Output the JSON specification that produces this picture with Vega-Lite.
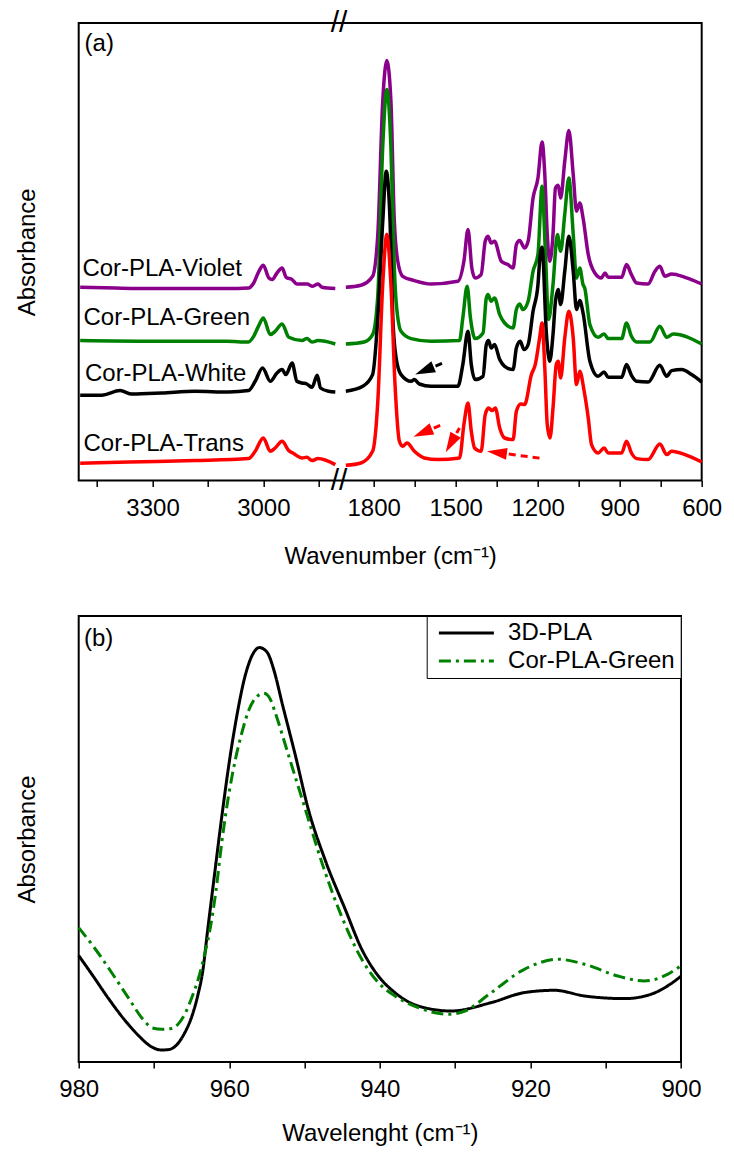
{
  "$schema": "https://vega.github.io/schema/vega-lite/v6.json",
  "background": "white",
  "padding": {"left": 14.7, "top": 7, "right": 5, "bottom": 0},
  "spacing": 44,
  "resolve": {"scale": {"color": "independent", "strokeDash": "independent", "x": "independent", "y": "independent"}, "legend": {"color": "independent", "strokeDash": "independent"}},
  "config": {
    "font": "Liberation Sans",
    "view": {"stroke": "black", "strokeWidth": 2},
    "axis": {"labelFont": "Liberation Sans", "titleFont": "Liberation Sans", "labelFontSize": 24, "titleFontSize": 24, "titleFontWeight": "normal", "labelColor": "black", "titleColor": "black", "tickColor": "black", "tickSize": 6, "tickWidth": 1.5, "domain": false, "grid": false, "labelPadding": 10, "titlePadding": 23.5, "labelFlush": false, "labelOverlap": false, "format": "d"},
    "legend": {"labelFont": "Liberation Sans"},
    "text": {"font": "Liberation Sans"}
  },
  "datasets": {
    "spec": [
      {"s":"Violet","wn":3496,"a":193.3},{"s":"Violet","wn":3400,"a":192.5},{"s":"Violet","wn":3300,"a":192},{"s":"Violet","wn":3200,"a":192},{"s":"Violet","wn":3100,"a":192},{"s":"Violet","wn":3040,"a":192.6},{"s":"Violet","wn":3026,"a":197.6},{"s":"Violet","wn":3012,"a":209.3},{"s":"Violet","wn":3000,"a":215.3},{"s":"Violet","wn":2985,"a":202.6},{"s":"Violet","wn":2976,"a":201},{"s":"Violet","wn":2963,"a":207.6},{"s":"Violet","wn":2949,"a":212.6},{"s":"Violet","wn":2938,"a":203.3},{"s":"Violet","wn":2922,"a":201},{"s":"Violet","wn":2909,"a":196.6},{"s":"Violet","wn":2881,"a":196.6},{"s":"Violet","wn":2868,"a":194.3},{"s":"Violet","wn":2852,"a":196.6},{"s":"Violet","wn":2841,"a":193.3},{"s":"Violet","wn":2805,"a":192},
      {"s":"Violet","wn":1902,"a":193.3},{"s":"Violet","wn":1847,"a":195.3},{"s":"Violet","wn":1804,"a":204.3},{"s":"Violet","wn":1785,"a":246.3},{"s":"Violet","wn":1767,"a":379.3},{"s":"Violet","wn":1752,"a":420},{"s":"Violet","wn":1737,"a":379.3},{"s":"Violet","wn":1725,"a":262.6},{"s":"Violet","wn":1712,"a":219.3},{"s":"Violet","wn":1694,"a":204.3},{"s":"Violet","wn":1651,"a":200},{"s":"Violet","wn":1590,"a":196.6},{"s":"Violet","wn":1492,"a":199.3},{"s":"Violet","wn":1470,"a":219.3},{"s":"Violet","wn":1455,"a":251},{"s":"Violet","wn":1441,"a":212.6},{"s":"Violet","wn":1429,"a":202.6},{"s":"Violet","wn":1407,"a":206},{"s":"Violet","wn":1392,"a":239.3},{"s":"Violet","wn":1382,"a":244.3},{"s":"Violet","wn":1370,"a":237.6},{"s":"Violet","wn":1358,"a":239.3},{"s":"Violet","wn":1333,"a":219.3},{"s":"Violet","wn":1309,"a":216},{"s":"Violet","wn":1290,"a":212.6},{"s":"Violet","wn":1278,"a":236},{"s":"Violet","wn":1266,"a":240},{"s":"Violet","wn":1248,"a":232.6},{"s":"Violet","wn":1235,"a":239.3},{"s":"Violet","wn":1217,"a":282.6},{"s":"Violet","wn":1199,"a":302.6},{"s":"Violet","wn":1184,"a":338.6},{"s":"Violet","wn":1174,"a":306},{"s":"Violet","wn":1165,"a":246.3},{"s":"Violet","wn":1156,"a":219.3},{"s":"Violet","wn":1144,"a":246.3},{"s":"Violet","wn":1135,"a":292.6},{"s":"Violet","wn":1125,"a":295.3},{"s":"Violet","wn":1116,"a":282.6},{"s":"Violet","wn":1101,"a":319.3},{"s":"Violet","wn":1086,"a":350},{"s":"Violet","wn":1070,"a":306},{"s":"Violet","wn":1058,"a":269.3},{"s":"Violet","wn":1046,"a":277.6},{"s":"Violet","wn":1034,"a":262.6},{"s":"Violet","wn":1015,"a":226},{"s":"Violet","wn":991,"a":207.6},{"s":"Violet","wn":967,"a":202.6},{"s":"Violet","wn":954,"a":207.6},{"s":"Violet","wn":942,"a":203.3},{"s":"Violet","wn":893,"a":203.3},{"s":"Violet","wn":875,"a":216},{"s":"Violet","wn":857,"a":206},{"s":"Violet","wn":838,"a":197.6},{"s":"Violet","wn":796,"a":196.6},{"s":"Violet","wn":771,"a":209.3},{"s":"Violet","wn":753,"a":214.3},{"s":"Violet","wn":735,"a":204.3},{"s":"Violet","wn":710,"a":206.6},{"s":"Violet","wn":661,"a":203.3},{"s":"Violet","wn":600,"a":196.6},

      {"s":"Green","wn":3496,"a":140},{"s":"Green","wn":3300,"a":139.3},{"s":"Green","wn":3100,"a":139.3},{"s":"Green","wn":3040,"a":138.6},{"s":"Green","wn":3026,"a":144.3},{"s":"Green","wn":3012,"a":155.3},{"s":"Green","wn":3000,"a":162.6},{"s":"Green","wn":2981,"a":146},{"s":"Green","wn":2968,"a":149.3},{"s":"Green","wn":2949,"a":156.6},{"s":"Green","wn":2931,"a":143.3},{"s":"Green","wn":2895,"a":140},{"s":"Green","wn":2882,"a":142},{"s":"Green","wn":2868,"a":138.6},{"s":"Green","wn":2852,"a":140},{"s":"Green","wn":2805,"a":136.6},
      {"s":"Green","wn":1902,"a":136.6},{"s":"Green","wn":1835,"a":138.6},{"s":"Green","wn":1804,"a":146},{"s":"Green","wn":1785,"a":185},{"s":"Green","wn":1767,"a":333.6},{"s":"Green","wn":1752,"a":391},{"s":"Green","wn":1737,"a":333},{"s":"Green","wn":1725,"a":215.5},{"s":"Green","wn":1718,"a":179.3},{"s":"Green","wn":1700,"a":149.3},{"s":"Green","wn":1663,"a":142},{"s":"Green","wn":1590,"a":139.3},{"s":"Green","wn":1486,"a":140},{"s":"Green","wn":1474,"a":162.6},{"s":"Green","wn":1458,"a":194.3},{"s":"Green","wn":1446,"a":162.6},{"s":"Green","wn":1429,"a":142},{"s":"Green","wn":1400,"a":147.6},{"s":"Green","wn":1388,"a":182.6},{"s":"Green","wn":1382,"a":186},{"s":"Green","wn":1370,"a":179.3},{"s":"Green","wn":1358,"a":182.6},{"s":"Green","wn":1339,"a":166},{"s":"Green","wn":1321,"a":157.6},{"s":"Green","wn":1290,"a":152.6},{"s":"Green","wn":1278,"a":171},{"s":"Green","wn":1266,"a":176.6},{"s":"Green","wn":1254,"a":171},{"s":"Green","wn":1235,"a":179.3},{"s":"Green","wn":1217,"a":209.3},{"s":"Green","wn":1199,"a":226.3},{"s":"Green","wn":1184,"a":294.3},{"s":"Green","wn":1172,"a":229.3},{"s":"Green","wn":1160,"a":161},{"s":"Green","wn":1144,"a":196},{"s":"Green","wn":1128,"a":246},{"s":"Green","wn":1116,"a":229.3},{"s":"Green","wn":1101,"a":266.3},{"s":"Green","wn":1086,"a":302.6},{"s":"Green","wn":1070,"a":246.3},{"s":"Green","wn":1058,"a":202.6},{"s":"Green","wn":1046,"a":212.6},{"s":"Green","wn":1034,"a":196},{"s":"Green","wn":1028,"a":192.6},{"s":"Green","wn":1009,"a":156},{"s":"Green","wn":979,"a":143.3},{"s":"Green","wn":957,"a":146.6},{"s":"Green","wn":942,"a":142},{"s":"Green","wn":893,"a":142},{"s":"Green","wn":875,"a":157.6},{"s":"Green","wn":857,"a":144.3},{"s":"Green","wn":838,"a":138.6},{"s":"Green","wn":789,"a":138.6},{"s":"Green","wn":753,"a":154.3},{"s":"Green","wn":728,"a":143.3},{"s":"Green","wn":704,"a":146.6},{"s":"Green","wn":600,"a":136.6},

      {"s":"White","wn":3496,"a":85.3},{"s":"White","wn":3438,"a":85.3},{"s":"White","wn":3388,"a":90},{"s":"White","wn":3356,"a":86.6},{"s":"White","wn":3275,"a":87.6},{"s":"White","wn":3185,"a":89.3},{"s":"White","wn":3094,"a":88.6},{"s":"White","wn":3040,"a":90},{"s":"White","wn":3022,"a":99.3},{"s":"White","wn":3002,"a":112.6},{"s":"White","wn":2981,"a":99.3},{"s":"White","wn":2963,"a":107.6},{"s":"White","wn":2949,"a":111},{"s":"White","wn":2939,"a":106},{"s":"White","wn":2922,"a":117.6},{"s":"White","wn":2909,"a":99.3},{"s":"White","wn":2895,"a":97.6},{"s":"White","wn":2882,"a":96.6},{"s":"White","wn":2868,"a":93.3},{"s":"White","wn":2854,"a":105.3},{"s":"White","wn":2845,"a":92.6},{"s":"White","wn":2823,"a":89.3},{"s":"White","wn":2805,"a":88.6},
      {"s":"White","wn":1902,"a":89.3},{"s":"White","wn":1840,"a":94.3},{"s":"White","wn":1804,"a":106},{"s":"White","wn":1785,"a":162.6},{"s":"White","wn":1767,"a":258.6},{"s":"White","wn":1754,"a":309.3},{"s":"White","wn":1740,"a":258},{"s":"White","wn":1730,"a":162.6},{"s":"White","wn":1718,"a":122.6},{"s":"White","wn":1700,"a":106},{"s":"White","wn":1663,"a":99.3},{"s":"White","wn":1651,"a":101},{"s":"White","wn":1633,"a":96.6},{"s":"White","wn":1590,"a":94.3},{"s":"White","wn":1492,"a":94.3},{"s":"White","wn":1474,"a":116},{"s":"White","wn":1455,"a":149.3},{"s":"White","wn":1443,"a":116},{"s":"White","wn":1429,"a":101},{"s":"White","wn":1400,"a":104.3},{"s":"White","wn":1388,"a":136},{"s":"White","wn":1380,"a":140},{"s":"White","wn":1370,"a":132.6},{"s":"White","wn":1358,"a":136},{"s":"White","wn":1339,"a":121},{"s":"White","wn":1321,"a":114.3},{"s":"White","wn":1290,"a":111},{"s":"White","wn":1278,"a":132.6},{"s":"White","wn":1264,"a":139.3},{"s":"White","wn":1250,"a":131},{"s":"White","wn":1235,"a":136},{"s":"White","wn":1217,"a":169.3},{"s":"White","wn":1199,"a":196},{"s":"White","wn":1193,"a":219.3},{"s":"White","wn":1184,"a":233.3},{"s":"White","wn":1168,"a":146},{"s":"White","wn":1156,"a":119.3},{"s":"White","wn":1144,"a":146},{"s":"White","wn":1135,"a":179.3},{"s":"White","wn":1125,"a":191},{"s":"White","wn":1116,"a":176},{"s":"White","wn":1101,"a":209.3},{"s":"White","wn":1086,"a":244.3},{"s":"White","wn":1070,"a":209.3},{"s":"White","wn":1058,"a":171},{"s":"White","wn":1046,"a":180},{"s":"White","wn":1034,"a":167.6},{"s":"White","wn":1009,"a":119.3},{"s":"White","wn":979,"a":104.3},{"s":"White","wn":957,"a":108.6},{"s":"White","wn":942,"a":103.3},{"s":"White","wn":893,"a":103.3},{"s":"White","wn":875,"a":116},{"s":"White","wn":857,"a":105.3},{"s":"White","wn":838,"a":99.3},{"s":"White","wn":796,"a":98.6},{"s":"White","wn":753,"a":115.3},{"s":"White","wn":728,"a":104.3},{"s":"White","wn":710,"a":110},{"s":"White","wn":673,"a":111},{"s":"White","wn":637,"a":106},{"s":"White","wn":600,"a":98.6},

      {"s":"Trans","wn":3496,"a":17.3},{"s":"Trans","wn":3365,"a":18.6},{"s":"Trans","wn":3185,"a":20},{"s":"Trans","wn":3040,"a":22},{"s":"Trans","wn":3022,"a":29.3},{"s":"Trans","wn":3000,"a":42.6},{"s":"Trans","wn":2981,"a":29.3},{"s":"Trans","wn":2968,"a":32.6},{"s":"Trans","wn":2949,"a":39.3},{"s":"Trans","wn":2931,"a":30},{"s":"Trans","wn":2920,"a":27.6},{"s":"Trans","wn":2895,"a":22.6},{"s":"Trans","wn":2882,"a":23.3},{"s":"Trans","wn":2868,"a":20},{"s":"Trans","wn":2852,"a":22},{"s":"Trans","wn":2805,"a":16},
      {"s":"Trans","wn":1902,"a":15.3},{"s":"Trans","wn":1847,"a":17.6},{"s":"Trans","wn":1804,"a":29.3},{"s":"Trans","wn":1785,"a":79.3},{"s":"Trans","wn":1767,"a":196},{"s":"Trans","wn":1752,"a":246},{"s":"Trans","wn":1737,"a":196},{"s":"Trans","wn":1722,"a":96},{"s":"Trans","wn":1706,"a":39.3},{"s":"Trans","wn":1694,"a":34.3},{"s":"Trans","wn":1678,"a":37.6},{"s":"Trans","wn":1651,"a":29.3},{"s":"Trans","wn":1615,"a":22.6},{"s":"Trans","wn":1565,"a":21},{"s":"Trans","wn":1486,"a":22.6},{"s":"Trans","wn":1470,"a":56},{"s":"Trans","wn":1455,"a":77.6},{"s":"Trans","wn":1443,"a":49.3},{"s":"Trans","wn":1431,"a":32.6},{"s":"Trans","wn":1407,"a":29.3},{"s":"Trans","wn":1392,"a":66},{"s":"Trans","wn":1380,"a":72.6},{"s":"Trans","wn":1367,"a":70},{"s":"Trans","wn":1355,"a":72.6},{"s":"Trans","wn":1339,"a":52.6},{"s":"Trans","wn":1321,"a":42.6},{"s":"Trans","wn":1290,"a":41},{"s":"Trans","wn":1278,"a":69.3},{"s":"Trans","wn":1262,"a":76.6},{"s":"Trans","wn":1248,"a":76},{"s":"Trans","wn":1223,"a":106},{"s":"Trans","wn":1209,"a":116},{"s":"Trans","wn":1193,"a":142.6},{"s":"Trans","wn":1184,"a":157.6},{"s":"Trans","wn":1174,"a":112.6},{"s":"Trans","wn":1165,"a":56},{"s":"Trans","wn":1155,"a":42.6},{"s":"Trans","wn":1144,"a":72.6},{"s":"Trans","wn":1132,"a":116},{"s":"Trans","wn":1125,"a":119.3},{"s":"Trans","wn":1116,"a":102.6},{"s":"Trans","wn":1101,"a":142.6},{"s":"Trans","wn":1086,"a":169.3},{"s":"Trans","wn":1070,"a":142.6},{"s":"Trans","wn":1058,"a":96},{"s":"Trans","wn":1046,"a":109.3},{"s":"Trans","wn":1030,"a":89.3},{"s":"Trans","wn":1015,"a":62.6},{"s":"Trans","wn":1003,"a":36},{"s":"Trans","wn":979,"a":27.6},{"s":"Trans","wn":957,"a":32.6},{"s":"Trans","wn":942,"a":27.6},{"s":"Trans","wn":893,"a":27.6},{"s":"Trans","wn":875,"a":39.3},{"s":"Trans","wn":857,"a":27.6},{"s":"Trans","wn":838,"a":22},{"s":"Trans","wn":796,"a":21},{"s":"Trans","wn":753,"a":36.6},{"s":"Trans","wn":728,"a":26},{"s":"Trans","wn":710,"a":29.3},{"s":"Trans","wn":661,"a":26},{"s":"Trans","wn":600,"a":18.6}
    ],
    "labs": [
      {"t":"Cor-PLA-Violet","wn":3490,"a":212},
      {"t":"Cor-PLA-Green","wn":3487,"a":162.6},
      {"t":"Cor-PLA-White","wn":3483,"a":107},
      {"t":"Cor-PLA-Trans","wn":3487,"a":37},
      {"t":"(a)","wn":3484,"a":436.3}
    ],
    "brk": [
      {"t":"//","wn":1927,"a":457.6},
      {"t":"//","wn":1927,"a":0}
    ],
    "arrows": [
      {"id":1,"s":"White","wn":1614.5,"a":110,"wn2":1547,"a2":117.6},
      {"id":2,"s":"Trans","wn":1620.7,"a":47.8,"wn2":1550.6,"a2":56},
      {"id":3,"s":"Trans","wn":1518.4,"a":37.1,"wn2":1486.1,"a2":52.6},
      {"id":4,"s":"Trans","wn":1349.3,"a":28.1,"wn2":1180.3,"a2":22}
    ],
    "b": [
      {"s":"3D-PLA","wn":980,"a":106.4},{"s":"3D-PLA","wn":978,"a":85},{"s":"3D-PLA","wn":976,"a":63},{"s":"3D-PLA","wn":974,"a":43},{"s":"3D-PLA","wn":972,"a":26},{"s":"3D-PLA","wn":970.5,"a":16},{"s":"3D-PLA","wn":969,"a":12},{"s":"3D-PLA","wn":968,"a":12.5},{"s":"3D-PLA","wn":967,"a":17},{"s":"3D-PLA","wn":966,"a":28},{"s":"3D-PLA","wn":965,"a":45},{"s":"3D-PLA","wn":964.2,"a":66},{"s":"3D-PLA","wn":963.5,"a":92},{"s":"3D-PLA","wn":962.9,"a":130},{"s":"3D-PLA","wn":962,"a":185},{"s":"3D-PLA","wn":961,"a":245},{"s":"3D-PLA","wn":960,"a":300},{"s":"3D-PLA","wn":959,"a":346},{"s":"3D-PLA","wn":958,"a":383},{"s":"3D-PLA","wn":957,"a":406},{"s":"3D-PLA","wn":956,"a":414.4},{"s":"3D-PLA","wn":955,"a":410},{"s":"3D-PLA","wn":954,"a":390},{"s":"3D-PLA","wn":953,"a":359.4},{"s":"3D-PLA","wn":951.2,"a":306},{"s":"3D-PLA","wn":949.5,"a":252.7},{"s":"3D-PLA","wn":947.3,"a":202.7},{"s":"3D-PLA","wn":944.6,"a":152.7},{"s":"3D-PLA","wn":942.4,"a":112.7},{"s":"3D-PLA","wn":940.2,"a":86},{"s":"3D-PLA","wn":938,"a":69.4},{"s":"3D-PLA","wn":934.9,"a":56},{"s":"3D-PLA","wn":930.5,"a":51},{"s":"3D-PLA","wn":925.2,"a":59.4},{"s":"3D-PLA","wn":920.8,"a":69.4},{"s":"3D-PLA","wn":916.8,"a":71.7},{"s":"3D-PLA","wn":912.8,"a":66},{"s":"3D-PLA","wn":907.5,"a":63.4},{"s":"3D-PLA","wn":904,"a":67.7},{"s":"3D-PLA","wn":901.8,"a":76},{"s":"3D-PLA","wn":900,"a":85.7},
      {"s":"Cor-PLA-Green","wn":980,"a":134.4},{"s":"Cor-PLA-Green","wn":977.7,"a":112},{"s":"Cor-PLA-Green","wn":975.5,"a":88},{"s":"Cor-PLA-Green","wn":973.3,"a":63},{"s":"Cor-PLA-Green","wn":971.5,"a":43},{"s":"Cor-PLA-Green","wn":970.2,"a":34},{"s":"Cor-PLA-Green","wn":968.9,"a":32.7},{"s":"Cor-PLA-Green","wn":967.7,"a":33.5},{"s":"Cor-PLA-Green","wn":966.9,"a":37},{"s":"Cor-PLA-Green","wn":965.9,"a":48},{"s":"Cor-PLA-Green","wn":965,"a":64},{"s":"Cor-PLA-Green","wn":964,"a":86},{"s":"Cor-PLA-Green","wn":963.2,"a":110},{"s":"Cor-PLA-Green","wn":962.5,"a":135},{"s":"Cor-PLA-Green","wn":961.8,"a":169.4},{"s":"Cor-PLA-Green","wn":961,"a":219.4},{"s":"Cor-PLA-Green","wn":960.1,"a":266},{"s":"Cor-PLA-Green","wn":959.2,"a":302},{"s":"Cor-PLA-Green","wn":958.3,"a":330},{"s":"Cor-PLA-Green","wn":957.4,"a":352},{"s":"Cor-PLA-Green","wn":956.4,"a":365},{"s":"Cor-PLA-Green","wn":955.4,"a":368.7},{"s":"Cor-PLA-Green","wn":954.5,"a":362},{"s":"Cor-PLA-Green","wn":953.9,"a":349.4},{"s":"Cor-PLA-Green","wn":952.1,"a":306},{"s":"Cor-PLA-Green","wn":949.9,"a":252.7},{"s":"Cor-PLA-Green","wn":947.7,"a":199.4},{"s":"Cor-PLA-Green","wn":945.1,"a":146},{"s":"Cor-PLA-Green","wn":942.4,"a":102.7},{"s":"Cor-PLA-Green","wn":940.2,"a":79.4},{"s":"Cor-PLA-Green","wn":938,"a":66},{"s":"Cor-PLA-Green","wn":934.9,"a":54.4},{"s":"Cor-PLA-Green","wn":930.9,"a":47.7},{"s":"Cor-PLA-Green","wn":928.7,"a":51},{"s":"Cor-PLA-Green","wn":925.2,"a":69.4},{"s":"Cor-PLA-Green","wn":920.8,"a":92.7},{"s":"Cor-PLA-Green","wn":916.3,"a":102.7},{"s":"Cor-PLA-Green","wn":912.8,"a":97.7},{"s":"Cor-PLA-Green","wn":908.4,"a":86},{"s":"Cor-PLA-Green","wn":904.9,"a":81},{"s":"Cor-PLA-Green","wn":901.8,"a":87.7},{"s":"Cor-PLA-Green","wn":900,"a":96.2}
    ],
    "labb": [{"t":"(b)","wn":979.3,"a":422.7}]
  },
  "vconcat": [
    {
      "width": 623,
      "height": 457.6,
      "encoding": {
        "y": {"field":"a","type":"quantitative","scale":{"domain":[0,457.6],"nice":false,"zero":false},
              "axis":{"title":"Absorbance","labels":false,"ticks":false,"titlePadding":39}}
      },
      "resolve": {"scale": {"x": "independent"}, "axis": {"x": "independent"}},
      "layer": [
        {
          "encoding": {
            "x": {"field":"wn","type":"quantitative",
                  "scale":{"domain":[2795,3500],"reverse":true,"range":[0,260.3],"nice":false,"zero":false},
                  "axis":{"orient":"bottom","title":null,"values":[3450,3300,3150,3000,2850],"labelExpr":"datum.value == 3300 || datum.value == 3000 ? datum.label : ''"}}
          },
          "layer": [
            {
              "data": {"name":"spec"},
              "transform": [{"filter":"datum.wn > 2000"}],
              "mark": {"type":"line","strokeWidth":3.5,"interpolate":"monotone"},
              "encoding": {
                "color": {"field":"s","type":"nominal","scale":{"domain":["Violet","Green","White","Trans"],"range":["#8B008B","#008000","#000000","#FF0000"]},"legend":null},
                "order": {"field":"wn","sort":"descending"}
              }
            },
            {
              "data": {"name":"labs"},
              "mark": {"type":"text","align":"left","baseline":"middle","fontSize":24,"color":"black"},
              "encoding": {"text":{"field":"t"}}
            }
          ]
        },
        {
          "encoding": {
            "x": {"field":"wn","type":"quantitative",
                  "scale":{"domain":[600,1927],"reverse":true,"range":[260.3,623],"nice":false,"zero":false},
                  "axis":{"orient":"bottom","title":"Wavenumber (cm⁻¹)","titleX":311.5,"titleAlign":"center","values":[1800,1650,1500,1350,1200,1050,900,750,600],"labelExpr":"datum.value % 300 == 0 ? datum.label : ''"}}
          },
          "layer": [
            {
              "data": {"name":"spec"},
              "transform": [{"filter":"datum.wn < 2000"}],
              "mark": {"type":"line","strokeWidth":3.5,"interpolate":"monotone"},
              "encoding": {
                "color": {"field":"s","type":"nominal","scale":{"domain":["Violet","Green","White","Trans"],"range":["#8B008B","#008000","#000000","#FF0000"]},"legend":null},
                "order": {"field":"wn","sort":"descending"}
              }
            },
            {
              "data": {"name":"arrows"},
              "mark": {"type":"rule","strokeWidth":3,"strokeDash":[7,5]},
              "encoding": {
                "x2": {"field":"wn2"},
                "y2": {"field":"a2"},
                "color": {"field":"s","type":"nominal","scale":{"domain":["Violet","Green","White","Trans"],"range":["#8B008B","#008000","#000000","#FF0000"]},"legend":null}
              }
            },
            {
              "data": {"name":"arrows"},
              "transform": [{"filter":"datum.id == 1"}],
              "mark": {"type":"point","shape":"M0,-1L-0.6,1L0.6,1Z","filled":true,"size":400,"opacity":1,"angle":247.6},
              "encoding": {"color": {"field":"s","type":"nominal","scale":{"domain":["Violet","Green","White","Trans"],"range":["#8B008B","#008000","#000000","#FF0000"]},"legend":null}}
            },
            {
              "data": {"name":"arrows"},
              "transform": [{"filter":"datum.id == 2"}],
              "mark": {"type":"point","shape":"M0,-1L-0.6,1L0.6,1Z","filled":true,"size":400,"opacity":1,"angle":247},
              "encoding": {"color": {"field":"s","type":"nominal","scale":{"domain":["Violet","Green","White","Trans"],"range":["#8B008B","#008000","#000000","#FF0000"]},"legend":null}}
            },
            {
              "data": {"name":"arrows"},
              "transform": [{"filter":"datum.id == 3"}],
              "mark": {"type":"point","shape":"M0,-1L-0.6,1L0.6,1Z","filled":true,"size":400,"opacity":1,"angle":209.7},
              "encoding": {"color": {"field":"s","type":"nominal","scale":{"domain":["Violet","Green","White","Trans"],"range":["#8B008B","#008000","#000000","#FF0000"]},"legend":null}}
            },
            {
              "data": {"name":"arrows"},
              "transform": [{"filter":"datum.id == 4"}],
              "mark": {"type":"point","shape":"M0,-1L-0.6,1L0.6,1Z","filled":true,"size":400,"opacity":1,"angle":277.6},
              "encoding": {"color": {"field":"s","type":"nominal","scale":{"domain":["Violet","Green","White","Trans"],"range":["#8B008B","#008000","#000000","#FF0000"]},"legend":null}}
            },
            {
              "data": {"name":"brk"},
              "mark": {"type":"text","align":"center","baseline":"middle","fontSize":30,"color":"black","clip":false},
              "encoding": {"text":{"field":"t"}}
            }
          ]
        }
      ]
    },
    {
      "width": 602.3,
      "height": 446,
      "encoding": {
        "x": {"field":"wn","type":"quantitative","scale":{"domain":[900,980],"reverse":true,"nice":false,"zero":false},
              "axis":{"title":"Wavelenght (cm⁻¹)","titlePadding":20,"values":[980,970,960,950,940,930,920,910,900],"labelExpr":"datum.value % 20 == 0 ? datum.label : ''"}},
        "y": {"field":"a","type":"quantitative","scale":{"domain":[0,446],"nice":false,"zero":false},
              "axis":{"title":"Absorbance","labels":false,"ticks":false,"titlePadding":39}}
      },
      "layer": [
        {
          "data": {"name":"b"},
          "mark": {"type":"line","strokeWidth":3,"interpolate":"monotone"},
          "encoding": {
            "color": {"field":"s","type":"nominal","scale":{"domain":["3D-PLA","Cor-PLA-Green"],"range":["#000000","#008000"]},
                      "legend":{"title":null,"orient":"top-right","offset":0,"padding":5,"strokeColor":"black","fillColor":"white","symbolType":"stroke","symbolSize":3025,"symbolStrokeWidth":3,"clipHeight":24,"labelFontSize":24,"labelColor":"black","labelOffset":12.7,"symbolOffset":5.7,"rowPadding":4,"labelLimit":400}},
            "strokeDash": {"field":"s","type":"nominal","scale":{"domain":["3D-PLA","Cor-PLA-Green"],"range":[[1,0],[12,5,3,5]]},
                      "legend":{"title":null,"orient":"top-right","offset":0,"padding":5,"strokeColor":"black","fillColor":"white","symbolType":"stroke","symbolSize":3025,"symbolStrokeWidth":3,"clipHeight":24,"labelFontSize":24,"labelColor":"black","labelOffset":12.7,"symbolOffset":5.7,"rowPadding":4,"labelLimit":400}},
            "order": {"field":"wn","sort":"descending"}
          }
        },
        {
          "data": {"name":"labb"},
          "mark": {"type":"text","align":"left","baseline":"middle","fontSize":24,"color":"black"},
          "encoding": {"text":{"field":"t"}}
        }
      ]
    }
  ]
}
